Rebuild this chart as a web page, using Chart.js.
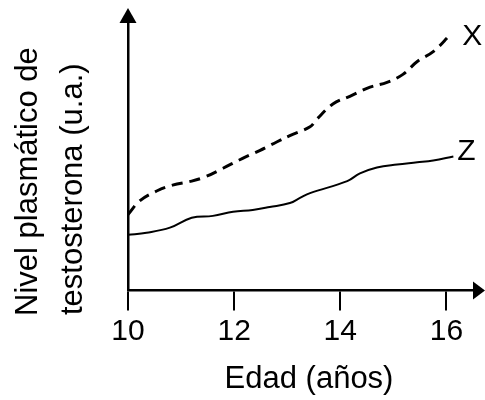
<!DOCTYPE html>
<html>
<head>
<meta charset="utf-8">
<script src="https://cdn.jsdelivr.net/npm/chart.js@4"></script>
<style>
  html, body { margin: 0; padding: 0; background: #fff; }
  canvas { display: block; }
</style>
</head>
<body>
<canvas id="testoChart" width="485" height="400"></canvas>
<script>
// Series X (dashed) and Z (solid), arbitrary units 0-100
const ageX = [10.00, 10.22, 10.54, 10.84, 11.20, 11.48, 11.79, 12.16, 12.48, 12.81, 13.05,
              13.43, 13.56, 13.86, 14.18, 14.56, 14.88, 15.18, 15.45, 15.75, 16.07];
const levelX = [28.4, 33.5, 37.2, 39.4, 40.9, 42.7, 45.7, 49.4, 52.3, 55.6, 57.9,
                61.2, 64.1, 69.7, 72.6, 76.0, 77.8, 80.8, 85.6, 89.3, 95.6];

const ageZ = [10.00, 10.35, 10.79, 11.20, 11.60, 11.98, 12.35, 12.67, 13.05,
              13.24, 13.43, 14.13, 14.37, 14.69, 15.07, 15.45, 15.75, 16.13];
const levelZ = [20.8, 21.6, 23.5, 27.2, 27.9, 29.4, 30.1, 31.2, 32.7,
                34.6, 36.4, 40.9, 43.8, 46.0, 47.1, 47.9, 48.6, 50.1];

const seriesNames = ['X', 'Z'];
const xTicks = [10, 12, 14, 16];
const xTitle = 'Edad (años)';
const yTitle = ['Nivel plasmático de', 'testosterona (u.a.)'];

const FONT = '"Liberation Sans", Arial, sans-serif';

function toPoints(xs, ys) {
    return xs.map((x, i) => ({ x: x, y: ys[i] }));
}

// arrow heads at the ends of both axes
const axisArrows = {
    id: 'axisArrows',
    afterDraw(chart) {
        const { ctx, chartArea } = chart;
        ctx.save();
        ctx.fillStyle = '#000';
        ctx.beginPath();
        ctx.moveTo(chartArea.left - 8.5, chartArea.top);
        ctx.lineTo(chartArea.left + 8.5, chartArea.top);
        ctx.lineTo(chartArea.left, chartArea.top - 15);
        ctx.closePath();
        ctx.fill();
        ctx.beginPath();
        ctx.moveTo(chartArea.right, chartArea.bottom - 9);
        ctx.lineTo(chartArea.right, chartArea.bottom + 9);
        ctx.lineTo(chartArea.right + 12, chartArea.bottom);
        ctx.closePath();
        ctx.fill();
        ctx.restore();
    }
};

// axis titles and the X / Z labels at the line ends
const chartTexts = {
    id: 'chartTexts',
    afterDraw(chart) {
        const ctx = chart.ctx;
        ctx.save();
        ctx.fillStyle = '#000';
        ctx.font = '31px ' + FONT;
        ctx.textBaseline = 'alphabetic';

        ctx.textAlign = 'center';
        ctx.fillText(xTitle, 309, 388);

        ctx.textAlign = 'left';
        const baseX = [37, 82];
        const startY = [316, 315];
        yTitle.forEach((line, i) => {
            ctx.save();
            ctx.translate(baseX[i], startY[i]);
            ctx.rotate(-Math.PI / 2);
            ctx.fillText(line, 0, 0);
            ctx.restore();
        });

        ctx.font = '30px ' + FONT;
        const offsets = [[12, 10], [4, 4]];
        chart.data.datasets.forEach((ds, i) => {
            const pts = chart.getDatasetMeta(i).data;
            const last = pts[pts.length - 1];
            ctx.fillText(ds.label, last.x + offsets[i][0], last.y + offsets[i][1]);
        });
        ctx.restore();
    }
};

const ctx = document.getElementById('testoChart').getContext('2d');
const chart = new Chart(ctx, {
    type: 'line',
    data: {
        datasets: [{
            label: seriesNames[0],
            data: toPoints(ageX, levelX),
            borderColor: '#000',
            borderWidth: 3,
            borderDash: [11, 7],
            pointRadius: 0,
            tension: 0.4,
            fill: false
        }, {
            label: seriesNames[1],
            data: toPoints(ageZ, levelZ),
            borderColor: '#000',
            borderWidth: 2,
            pointRadius: 0,
            tension: 0.4,
            fill: false
        }]
    },
    options: {
        responsive: false,
        animation: false,
        layout: { padding: { left: 128, right: 12, top: 23, bottom: 47.5 } },
        plugins: {
            legend: { display: false },
            tooltip: { enabled: false }
        },
        scales: {
            x: {
                type: 'linear',
                min: 10,
                max: 16.5,
                afterBuildTicks: (scale) => {
                    scale.ticks = xTicks.map(v => ({ value: v }));
                },
                border: { display: true, color: '#000', width: 2.5 },
                grid: {
                    drawOnChartArea: false,
                    drawTicks: true,
                    tickLength: 20,
                    color: '#000',
                    lineWidth: 2
                },
                ticks: {
                    color: '#000',
                    padding: 3,
                    maxRotation: 0,
                    font: { family: FONT, size: 30 }
                }
            },
            y: {
                type: 'linear',
                min: 0,
                max: 100,
                border: { display: true, color: '#000', width: 2.5 },
                grid: { drawOnChartArea: false, drawTicks: false },
                ticks: { display: false }
            }
        }
    },
    plugins: [axisArrows, chartTexts]
});
</script>
</body>
</html>
